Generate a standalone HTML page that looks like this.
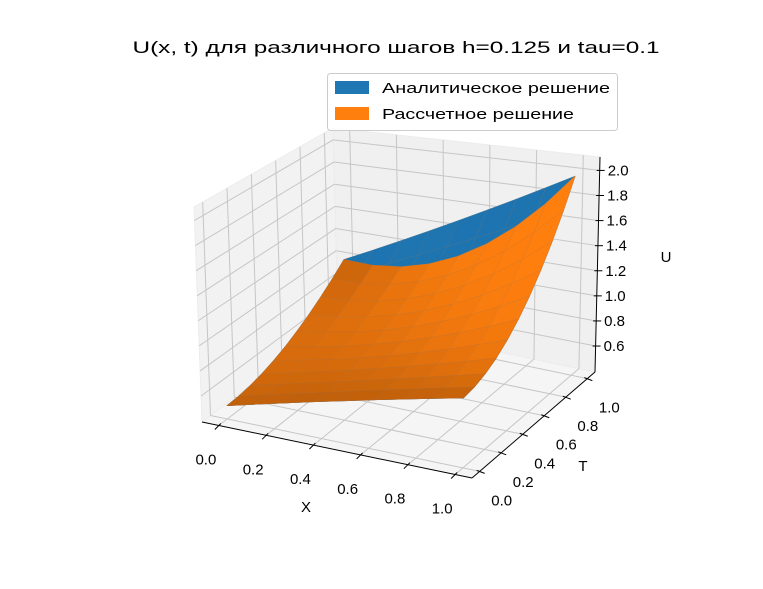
<!DOCTYPE html>
<html><head><meta charset="utf-8">
<style>
html,body{margin:0;padding:0;background:#fff;}
svg{display:block;font-family:"Liberation Sans","DejaVu Sans",sans-serif;}
</style></head>
<body>
<svg id="chart" width="763" height="589" viewBox="0 0 763 589" xmlns="http://www.w3.org/2000/svg">
<rect x="0" y="0" width="763" height="589" fill="#fff"/>
<g id="panes"></g>
<g id="grid"></g>
<g id="axes"></g>
<g id="surf"></g>
<text x="396" y="53" font-size="17" text-anchor="middle" textLength="527" lengthAdjust="spacingAndGlyphs">U(x, t) для различного шагов h=0.125 и tau=0.1</text>
<g>
<rect x="327.5" y="73.5" width="290" height="57" rx="3" fill="#fff" fill-opacity="0.8" stroke="#ccc"/>
<rect x="335" y="81" width="34" height="13" fill="#1f77b4"/>
<text x="382" y="93" font-size="15" textLength="228" lengthAdjust="spacingAndGlyphs">Аналитическое решение</text>
<rect x="335" y="107" width="34" height="13" fill="#ff7f0e"/>
<text x="382" y="119" font-size="15" textLength="192" lengthAdjust="spacingAndGlyphs">Рассчетное решение</text>
</g>
<text x="306" y="512" font-size="15" text-anchor="middle">X</text>
<text x="583" y="471" font-size="15" text-anchor="middle">T</text>
<text x="666" y="262" font-size="15" text-anchor="middle">U</text>
</svg>
<script>
// ---- data ----
const xValues = [0, 0.125, 0.25, 0.375, 0.5, 0.625, 0.75, 0.875, 1];
const tValues = [0, 0.1, 0.2, 0.3, 0.4, 0.5, 0.6, 0.7, 0.8, 0.9, 1];
const analytic = [
 [.5,.563,.625,.688,.75,.813,.875,.938,1],
 [.505,.568,.631,.694,.758,.821,.884,.947,1.01],
 [.52,.585,.65,.715,.78,.845,.91,.975,1.04],
 [.545,.613,.681,.749,.818,.886,.954,1.022,1.09],
 [.58,.653,.725,.798,.87,.943,1.015,1.088,1.16],
 [.625,.703,.781,.859,.938,1.016,1.094,1.172,1.25],
 [.68,.765,.85,.935,1.02,1.105,1.19,1.275,1.36],
 [.745,.838,.931,1.024,1.118,1.211,1.304,1.397,1.49],
 [.82,.923,1.025,1.128,1.23,1.333,1.435,1.538,1.64],
 [.905,1.018,1.131,1.244,1.358,1.471,1.584,1.697,1.81],
 [1,1.125,1.25,1.375,1.5,1.625,1.75,1.875,2]
];
const numeric = [
 [.5,.563,.625,.688,.75,.813,.875,.938,1],
 [.505,.567,.629,.691,.755,.818,.882,.946,1.01],
 [.52,.58,.641,.704,.768,.834,.901,.97,1.04],
 [.545,.601,.661,.724,.791,.861,.934,1.01,1.09],
 [.58,.632,.689,.753,.822,.898,.979,1.067,1.16],
 [.625,.67,.725,.789,.863,.946,1.038,1.139,1.25],
 [.68,.718,.769,.834,.912,1.004,1.109,1.228,1.36],
 [.745,.774,.821,.886,.971,1.073,1.194,1.333,1.49],
 [.82,.839,.881,.948,1.038,1.153,1.291,1.454,1.64],
 [.905,.912,.949,1.016,1.115,1.243,1.402,1.591,1.81],
 [1,.994,1.025,1.094,1.2,1.344,1.525,1.744,2]
];
const xTicks = [0, 0.2, 0.4, 0.6, 0.8, 1.0];
const tTicks = [0, 0.2, 0.4, 0.6, 0.8, 1.0];
const zTicks = [0.6, 0.8, 1.0, 1.2, 1.4, 1.6, 1.8, 2.0];
const xTickLabels = ["0.0","0.2","0.4","0.6","0.8","1.0"];
const tTickLabels = ["0.0","0.2","0.4","0.6","0.8","1.0"];
const zTickLabels = ["0.6","0.8","1.0","1.2","1.4","1.6","1.8","2.0"];

// ---- projection ----
const XMIN=-0.0714, XMAX=1.0714, TMIN=-0.0714, TMAX=1.0714, ZMIN=0.393, ZMAX=2.107;
const C = {
 '000':[202,422],'100':[472,478],'010':[338,318],'110':[595,372],
 '001':[194,207],'101':[474,283],'011':[333,128],'111':[600,157]};
function proj(x,t,z){
  const a=(x-XMIN)/(XMAX-XMIN), b=(t-TMIN)/(TMAX-TMIN), c=(z-ZMIN)/(ZMAX-ZMIN);
  let px=0,py=0;
  for(const k in C){
    const w=(k[0]==='1'?a:1-a)*(k[1]==='1'?b:1-b)*(k[2]==='1'?c:1-c);
    px+=w*C[k][0]; py+=w*C[k][1];
  }
  return [px,py];
}
function depth(x,t,z){
  const a=(x-XMIN)/(XMAX-XMIN), b=(t-TMIN)/(TMAX-TMIN), c=(z-ZMIN)/(ZMAX-ZMIN);
  return 0.433*a-0.75*b+0.5*c;
}
const NS='http://www.w3.org/2000/svg';
function mk(tag,attrs,parent){const e=document.createElementNS(NS,tag);for(const k in attrs)e.setAttribute(k,attrs[k]);parent.appendChild(e);return e;}
function pts(arr){return arr.map(p=>p[0].toFixed(2)+','+p[1].toFixed(2)).join(' ');}

const panes=document.getElementById('panes');
let p=mk('polygon',{points:pts([proj(XMIN,TMIN,ZMIN),proj(XMAX,TMIN,ZMIN),proj(XMAX,TMAX,ZMIN),proj(XMIN,TMAX,ZMIN)]),fill:'#f5f5f5',stroke:'#f0f0f0'},panes);


p=mk('polygon',{points:pts([proj(XMIN,TMIN,ZMIN),proj(XMIN,TMAX,ZMIN),proj(XMIN,TMAX,ZMAX),proj(XMIN,TMIN,ZMAX)]),fill:'#f2f2f2',stroke:'#ececec'},panes);


p=mk('polygon',{points:pts([proj(XMIN,TMAX,ZMIN),proj(XMAX,TMAX,ZMIN),proj(XMAX,TMAX,ZMAX),proj(XMIN,TMAX,ZMAX)]),fill:'#f0f0f0',stroke:'#ececec'},panes);



const grid=document.getElementById('grid');
function gl(a,b,name){const l=mk('line',{x1:a[0],y1:a[1],x2:b[0],y2:b[1],stroke:'#c6c6c6','stroke-width':1},grid);

}
xTicks.forEach(x=>{gl(proj(x,TMIN,ZMIN),proj(x,TMAX,ZMIN),'floor-grid-x');gl(proj(x,TMAX,ZMIN),proj(x,TMAX,ZMAX),'back-grid-x');});
tTicks.forEach(t=>{gl(proj(XMIN,t,ZMIN),proj(XMAX,t,ZMIN),'floor-grid-t');gl(proj(XMIN,t,ZMIN),proj(XMIN,t,ZMAX),'left-grid-t');});
zTicks.forEach(z=>{gl(proj(XMIN,TMIN,z),proj(XMIN,TMAX,z),'left-grid-z');gl(proj(XMIN,TMAX,z),proj(XMAX,TMAX,z),'back-grid-z');});

const axes=document.getElementById('axes');
function al(a,b,name){const l=mk('line',{x1:a[0],y1:a[1],x2:b[0],y2:b[1],stroke:'#000','stroke-width':1},axes);

}
function tx(x,y,s,name,anchor){const e=mk('text',{x:x,y:y,'font-size':15,'text-anchor':anchor||'middle'},axes);e.textContent=s;

}
al(proj(XMIN,TMIN,ZMIN),proj(XMAX,TMIN,ZMIN),'x-axis-line');
al(proj(XMAX,TMIN,ZMIN),proj(XMAX,TMAX,ZMIN),'t-axis-line');
al(proj(XMAX,TMAX,ZMIN),proj(XMAX,TMAX,ZMAX),'u-axis-line');
xTicks.forEach((x,i)=>{const a=proj(x,TMIN,ZMIN);al([a[0]+2,a[1]-2],[a[0]-4,a[1]+4],'x-tick');tx(a[0]-13,a[1]+39,xTickLabels[i],'x-tick-label');});
tTicks.forEach((t,i)=>{const a=proj(XMAX,t,ZMIN);al([a[0]-3,a[1]-1],[a[0]+5,a[1]+2],'t-tick');tx(a[0]+22,a[1]+34,tTickLabels[i],'t-tick-label');});
zTicks.forEach((z,i)=>{const a=proj(XMAX,TMAX,z);al([a[0]-3,a[1]],[a[0]+5,a[1]],'u-tick');tx(a[0]+8,a[1]+5,zTickLabels[i],'u-tick-label','start');});

const surf=document.getElementById('surf');
const L=[-0.667,-0.667,0.333];
function drawSurface(Z,rgb,name){
  const quads=[];
  for(let j=0;j<tValues.length-1;j++)for(let i=0;i<xValues.length-1;i++){
    const v=[[xValues[i],tValues[j],Z[j][i]],[xValues[i+1],tValues[j],Z[j][i+1]],[xValues[i+1],tValues[j+1],Z[j+1][i+1]],[xValues[i],tValues[j+1],Z[j+1][i]]];
    const d1=[v[2][0]-v[0][0],v[2][1]-v[0][1],v[2][2]-v[0][2]], d2=[v[3][0]-v[1][0],v[3][1]-v[1][1],v[3][2]-v[1][2]];
    let n=[d1[1]*d2[2]-d1[2]*d2[1], d1[2]*d2[0]-d1[0]*d2[2], d1[0]*d2[1]-d1[1]*d2[0]];
    if(n[2]<0)n=n.map(q=>-q);
    const m=Math.hypot(n[0],n[1],n[2]);
    const s=(n[0]*L[0]+n[1]*L[1]+n[2]*L[2])/m;
    let f=0.3+0.7*(s+1)/2;
    f=1-(1-f)*1.8;
    const dp=v.reduce((acc,q)=>acc+depth(q[0],q[1],q[2]),0)/4;
    quads.push({v,f,dp});
  }
  quads.sort((a,b)=>a.dp-b.dp);
  quads.forEach(q=>{
    const c='rgb('+rgb.map(k=>Math.round(Math.min(255,k*q.f))).join(',')+')';
    const e=mk('polygon',{points:pts(q.v.map(w=>proj(w[0],w[1],w[2]))),fill:c,stroke:c,'stroke-width':0.6,'stroke-linejoin':'round'},surf);
    
    
    const s2=mk('polygon',{points:pts(q.v.map(w=>proj(w[0],w[1],w[2]))),fill:'none',stroke:'rgba(150,120,100,0.35)','stroke-width':0.5},surf);
    
    
  });
}
drawSurface(analytic,[31,119,180],'analytic-surface-face');
drawSurface(numeric,[255,127,14],'numeric-surface-face');
</script>
</body></html>
